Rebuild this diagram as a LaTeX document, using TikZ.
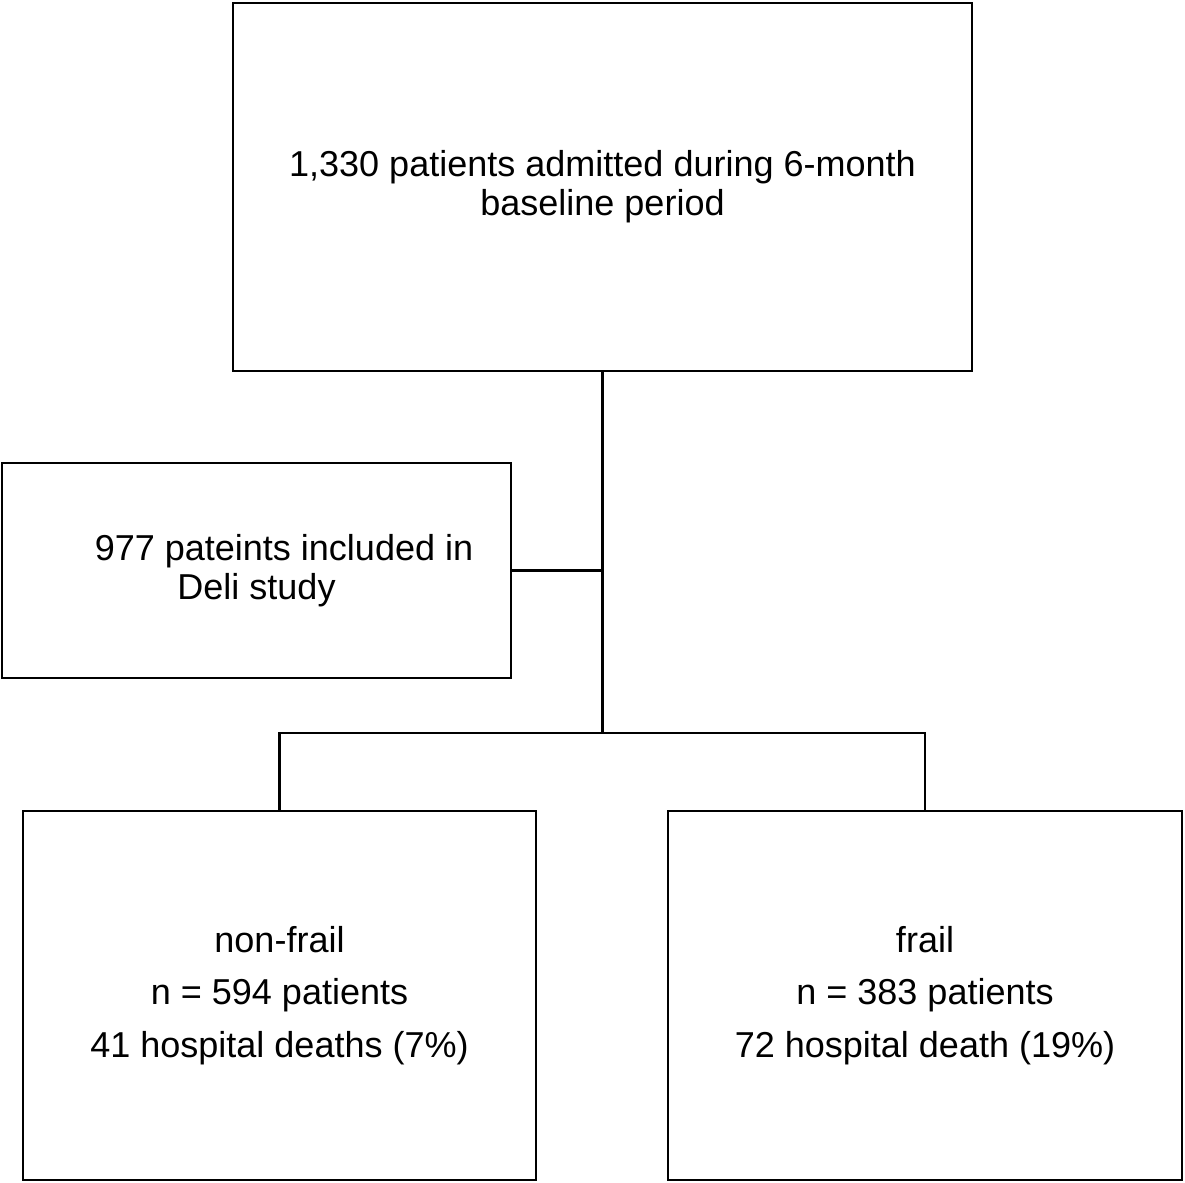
\documentclass[tikz,border=0pt]{standalone}
\usepackage{fontspec}
\setmainfont{Liberation Sans}
\usepackage{tikz}
\usetikzlibrary{positioning, calc}

\begin{document}
\begin{tikzpicture}[
    x=0.02cm, y=-0.02cm,
    box/.style={rectangle, draw, line width=1.6pt, align=center, inner sep=0pt},
    link/.style={line width=1.6pt},
    label/.style={font=\fontsize{20.5}{22.4}\selectfont}
]
\useasboundingbox (0,0) rectangle (1185,1182);

% Admitted patients
\node[box, label, minimum width=14.78cm, minimum height=7.36cm] (admitted) at (602.5,187)
    {1,330 patients admitted during 6-month\\baseline period};

% Deli study
\node[box, label, minimum width=10.18cm, minimum height=4.3cm] (deli) at (256.5,570.5)
    {\hspace*{1.1cm}977 pateints included in\\Deli study};

% Frailty groups
\node[box, font=\fontsize{20.5}{30}\selectfont, minimum width=10.26cm, minimum height=7.38cm] (nonfrail) at (279.5,995.5)
    {non-frail\\n = 594 patients\\41 hospital deaths (7\%)};
\node[box, font=\fontsize{20.5}{30}\selectfont, minimum width=10.28cm, minimum height=7.38cm] (frail) at (925,995.5)
    {frail\\n = 383 patients\\72 hospital death (19\%)};

\coordinate (split) at (admitted.south |- 0,733);
\coordinate (splitL) at (nonfrail.north |- split);
\coordinate (splitR) at (frail.north |- split);

\draw[link] (admitted.south) -- (split);
\draw[link] (deli.east) -- (deli.east -| admitted.south);
\draw[link] (nonfrail.north) -- (splitL) -- (splitR) -- (frail.north);

\end{tikzpicture}
\end{document}
